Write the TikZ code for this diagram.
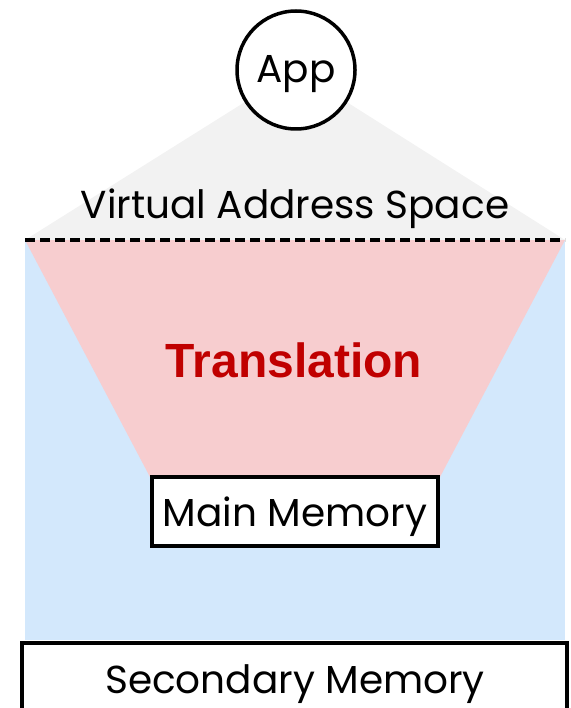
\documentclass[tikz,border=0pt]{standalone}
\usepackage{fontspec}
\setmainfont{Poppins}
\newfontfamily\boldsans{Liberation Sans}
\usepackage{xcolor}
\usetikzlibrary{positioning}
\definecolor{vablue}{HTML}{D3E8FC}
\definecolor{trpink}{HTML}{F7CDCF}
\definecolor{vagray}{HTML}{F2F2F2}
\definecolor{trred}{HTML}{C00000}
\begin{document}
\begin{tikzpicture}[x=1pt, y=-1pt,
    membox/.style={rectangle, draw=black, line width=3.5pt, fill=white, inner sep=0pt,
                   font=\fontsize{39}{44}\selectfont},
    label/.style={font=\fontsize{39}{44}\selectfont, inner sep=0pt}
]
\useasboundingbox (0,0) rectangle (570,708);
% regions
\fill[vablue] (25,240) rectangle (565,640);
\fill[trpink] (25,240) -- (565,240) -- (440,477) -- (150,477) -- cycle;
\node[circle, minimum size=120pt, inner sep=0pt] (app) at (296,70) {};
\fill[vagray] (app.center) -- (565,240) -- (25,240) -- cycle;
\coordinate (dashL) at (25,240);
\coordinate (dashR) at (565,240);
\draw[line width=4pt, dash pattern=on 10pt off 5pt] (dashL) -- (dashR);
% nodes
\node[circle, draw=black, line width=3.5pt, fill=white, minimum size=118pt, inner sep=0pt] at (app.center) {};
\node[label] at (296,74) {App};
\node[label] (vas) at (295,209) {Virtual Address Space};
\node[font=\boldsans\bfseries\fontsize{48}{54}\selectfont, text=trred, inner sep=0pt] (trans) at (294,360) {Translation};
\node[membox, minimum width=286pt, minimum height=69pt] (main) at (295,511.5) {};
\node[label] at (295,517) {Main Memory};
\node[membox, minimum width=545pt, minimum height=100pt, anchor=north] (second) at (294.5,641) {};
\node[label] at (295,684) {Secondary Memory};
\end{tikzpicture}
\end{document}
